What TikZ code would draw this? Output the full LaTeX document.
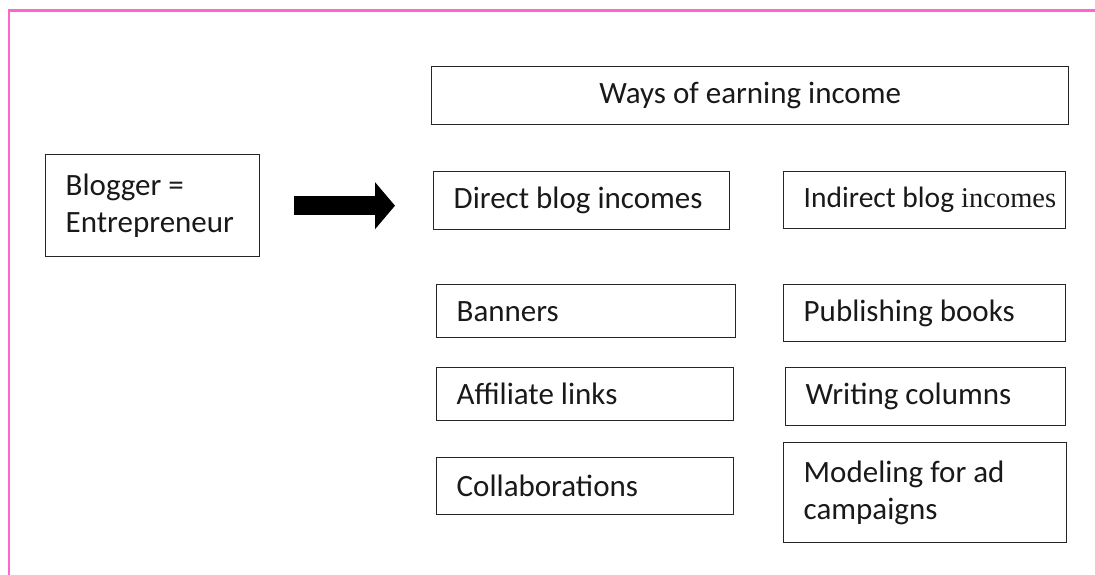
\documentclass[tikz,border=0pt]{standalone}
\usepackage{fontspec}
\setmainfont{Carlito}
\newfontfamily\serifword{Liberation Serif}
\usetikzlibrary{arrows.meta}

\definecolor{framepink}{RGB}{255,102,204}

\begin{document}
\begin{tikzpicture}[
    x=1pt, y=-1pt,
    box/.style={draw=black!85, line width=1.4pt, anchor=north west,
      inner xsep=20pt, inner ysep=0pt, align=flush left, text=black!90,
      font=\fontsize{31}{37}\selectfont},
    bigarrow/.style={-{Triangle[length=20pt, width=46pt]}, line width=19pt},
  ]
  \useasboundingbox (0,0) rectangle (1095,575);

  % ---- page frame ----
  \draw[framepink, line width=2.2pt] (1095,10.5) -| (9,575);

  % ---- blogger ----
  \node[box, text width=174pt, minimum height=102pt] (blogger) at (45,154)
    {Blogger =\\ Entrepreneur};

  % ---- heading ----
  \node[box, align=center, inner xsep=0pt, minimum width=637pt,
    minimum height=58pt] (ways) at (431,66) {Ways of earning income};

  % ---- direct incomes ----
  \node[box, text width=256pt, minimum height=58pt] (direct) at (433,171)
    {Direct blog incomes};
  \node[box, text width=259pt, minimum height=53pt] (banners) at (436,284)
    {Banners};
  \node[box, text width=257pt, minimum height=53pt] (affiliate) at (436,367)
    {Affiliate links};
  \node[box, text width=257pt, minimum height=57pt] (collab) at (436,457)
    {Collaborations};

  % ---- indirect incomes ----
  \node[box, text width=242pt, minimum height=57pt,
    font=\fontsize{29.5}{37}\selectfont] (indirect) at (783,171)
    {\mbox{Indirect blog\hspace{7pt}{\serifword\fontsize{28.5}{37}\selectfont incomes}}};
  \node[box, text width=242pt, minimum height=57pt] (books) at (783,284)
    {Publishing books};
  \node[box, text width=240pt, minimum height=58pt] (columns) at (785,367)
    {Writing columns};
  \node[box, text width=243pt, minimum height=100pt] (modeling) at (783,442)
    {Modeling for ad\\ campaigns};

  % blogger leads to the income ways
  \draw[bigarrow, shorten <=34pt, shorten >=38pt]
    (blogger.east) -- (blogger.east -| direct.west);

\end{tikzpicture}
\end{document}
